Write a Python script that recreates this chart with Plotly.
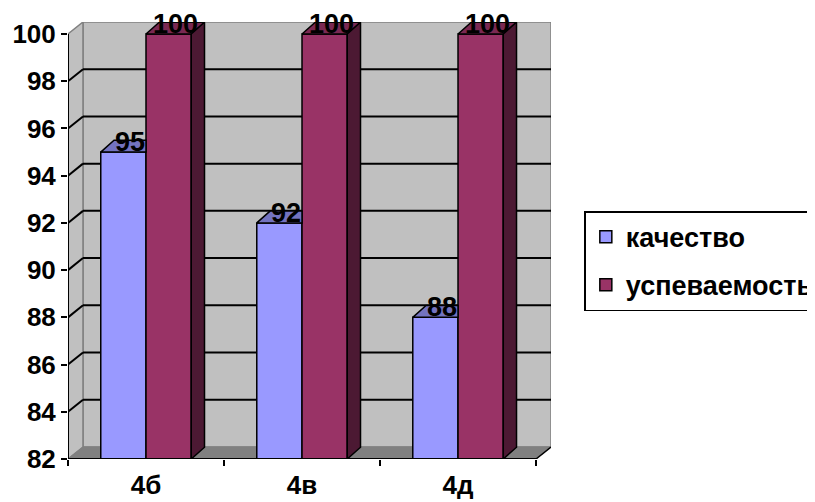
import plotly.graph_objects as go

# ---- data ----
categories = ["4б", "4в", "4д"]
kachestvo = [95, 92, 88]
uspevaemost = [100, 100, 100]
series_names = ["качество", "успеваемость"]
y_ticks = [82, 84, 86, 88, 90, 92, 94, 96, 98, 100]

# ---- style / geometry (data units) ----
BW = 0.29          # bar width
BDX, BDY = 0.085, 0.5   # bar depth offset
WDX, WDY = 0.096, 0.51  # wall depth offset
YMIN, YMAX = 82, 100
XMIN, XMAX = -0.5, len(categories) - 0.5

front_cols = ["#9999FF", "#993366"]
top_cols = ["#7373BF", "#7A2952"]
side_cols = ["#4C4C80", "#4C1933"]
FONT = "Liberation Sans"

fig = go.Figure()
x_idx = list(range(len(categories)))

# front faces (bars)
for s, (vals, name) in enumerate(zip([kachestvo, uspevaemost], series_names)):
    fig.add_trace(go.Bar(
        x=x_idx, y=vals, name=f"<b>{name}</b>", width=BW, offset=-BW + s * BW,
        marker=dict(color=front_cols[s], line=dict(color="black", width=1.5)),
        legendgroup=name, hoverinfo="skip",
    ))

# 3D faces
def poly(xs, ys, color):
    fig.add_trace(go.Scatter(
        x=xs + [xs[0]], y=ys + [ys[0]], mode="lines", fill="toself",
        fillcolor=color, line=dict(color="black", width=1.5),
        showlegend=False, hoverinfo="skip",
    ))

for i in x_idx:
    v = kachestvo[i]
    x0, x1 = i - BW, i
    poly([x0, x1, x1, x0 + BDX], [v, v, v + BDY, v + BDY], top_cols[0])
    v = uspevaemost[i]
    x0, x1 = i, i + BW
    poly([x0, x1, x1 + BDX, x0 + BDX], [v, v, v + BDY, v + BDY], top_cols[1])
    poly([x1, x1, x1 + BDX, x1 + BDX], [YMIN, v, v + BDY, YMIN + BDY], side_cols[1])

shapes = []
shapes.append(dict(type="rect", xref="x", yref="y", layer="below",
                   x0=XMIN + WDX, x1=XMAX + WDX, y0=YMIN + WDY, y1=YMAX + WDY,
                   fillcolor="#C0C0C0", line=dict(color="#808080", width=1.5)))
shapes.append(dict(type="path", xref="x", yref="y", layer="below",
                   path=f"M{XMIN},{YMIN} L{XMIN},{YMAX} L{XMIN+WDX},{YMAX+WDY} L{XMIN+WDX},{YMIN+WDY} Z",
                   fillcolor="#C0C0C0", line=dict(color="#808080", width=1.5)))
shapes.append(dict(type="path", xref="x", yref="y", layer="below",
                   path=f"M{XMIN},{YMIN} L{XMAX},{YMIN} L{XMAX+WDX},{YMIN+WDY} L{XMIN+WDX},{YMIN+WDY} Z",
                   fillcolor="#808080", line=dict(color="#808080", width=1)))
for t in y_ticks[1:-1]:
    shapes.append(dict(type="line", xref="x", yref="y", layer="below",
                       x0=XMIN + WDX, x1=XMAX + WDX, y0=t + WDY, y1=t + WDY,
                       line=dict(color="black", width=2)))
    shapes.append(dict(type="line", xref="x", yref="y", layer="below",
                       x0=XMIN, x1=XMIN + WDX, y0=t, y1=t + WDY,
                       line=dict(color="black", width=2)))
shapes.append(dict(type="line", xref="x", yref="y", x0=XMIN, x1=XMIN, y0=YMIN, y1=YMAX,
                   line=dict(color="black", width=2)))
shapes.append(dict(type="line", xref="x", yref="y", x0=XMIN, x1=XMAX, y0=YMIN, y1=YMIN,
                   line=dict(color="black", width=2)))
shapes.append(dict(type="line", xref="x", yref="y", x0=XMAX, x1=XMAX + WDX, y0=YMIN, y1=YMIN + WDY,
                   line=dict(color="black", width=1.5)))

annotations = []
for s, vals in enumerate([kachestvo, uspevaemost]):
    for i in x_idx:
        annotations.append(dict(
            x=i - BW + s * BW + BW / 2 + BDX / 2, y=vals[i], xref="x", yref="y",
            text=f"<b>{vals[i]}</b>", showarrow=False, yanchor="bottom", yshift=-7,
            font=dict(family=FONT, size=27, color="black"),
        ))

# page body has an 8px margin, so the figure is sized/offset to compensate
fig.update_layout(
    width=807, height=494,
    margin=dict(l=60, r=264, t=14, b=43, autoexpand=False),
    paper_bgcolor="white", plot_bgcolor="white",
    barmode="overlay", shapes=shapes, annotations=annotations,
    showlegend=True,
    legend=dict(x=1.069, xanchor="left", y=0.567, yanchor="top",
                bordercolor="black", borderwidth=1.5, tracegroupgap=10,
                font=dict(family=FONT, size=27, color="black")),
    font=dict(family=FONT, color="black"),
)
fig.update_xaxes(range=[XMIN, XMAX + WDX], tickvals=x_idx, ticktext=[f"<b>{c}</b>" for c in categories],
                 ticks="", showgrid=False, zeroline=False, showline=False, automargin=False,
                 ticklabelstandoff=8,
                 tickfont=dict(family=FONT, size=26, color="black"),
                 minor=dict(tickvals=[XMIN + k for k in range(len(categories) + 1)],
                            ticks="outside", ticklen=6, tickcolor="black", tickwidth=2,
                            showgrid=False))
fig.update_yaxes(range=[YMIN, YMAX + WDY], tickvals=y_ticks,
                 ticktext=[f"<b>{t}</b>" for t in y_ticks],
                 ticks="outside", ticklen=6, automargin=False,
                 tickcolor="black", tickwidth=2, showgrid=False, zeroline=False,
                 showline=False,
                 tickfont=dict(family=FONT, size=26, color="black"))

fig.write_html("out.html")
